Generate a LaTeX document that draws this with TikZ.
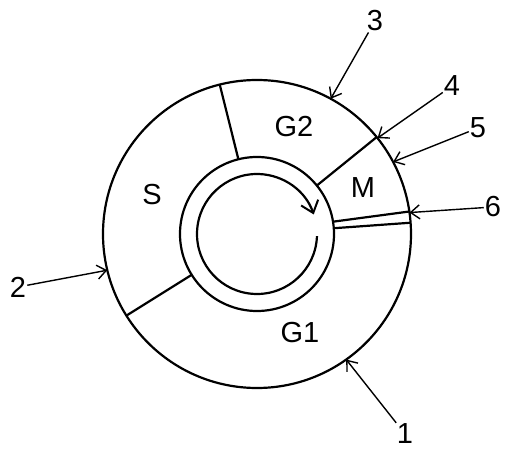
\documentclass[tikz,border=0pt]{standalone}
\usepackage{fontspec}
\setmainfont{Liberation Sans}
\usetikzlibrary{arrows.meta}

\begin{document}
\begin{tikzpicture}[x=1pt,y=1pt,
    ring/.style={line width=2.2pt},
    pointer/.style={line width=1.4pt,-{Straight Barb[length=9pt,width=14pt,line width=1.4pt]}},
    tag/.style={inner sep=1pt,font=\fontsize{29}{34}\selectfont}]
  \useasboundingbox (0,0) rectangle (511,450);
  \coordinate (c) at (257,216);
  % rings
  \draw[ring] (c) circle[radius=154pt];
  \draw[ring] (c) circle[radius=77pt];
  \draw[ring,-{Straight Barb[length=11pt,width=18pt,line width=2pt]}]
    ([shift={(-2:60pt)}]c) arc[start angle=-2,end angle=-341,radius=60pt];
  % dividers
  \draw[ring] ([shift={(104:77pt)}]c) -- ([shift={(104:154pt)}]c);
  \draw[ring] ([shift={(39:77pt)}]c) -- ([shift={(39:154pt)}]c);
  \draw[ring] ([shift={(9.2:77pt)}]c) -- ([shift={(8.4:154pt)}]c);
  \draw[ring] ([shift={(4.3:77pt)}]c) -- ([shift={(4.2:154pt)}]c);
  \draw[ring] ([shift={(212:77pt)}]c) -- ([shift={(212:154pt)}]c);
  % regions
  \node[tag] (g2) at (294,323) {G2};
  \node[tag] (s) at (152,255) {S};
  \node[tag] (m) at (363,262) {M};
  \node[tag] (g1) at (300,117) {G1};
  % pointers
  \coordinate (p1) at ([shift={(-54.6:154pt)}]c);
  \coordinate (p2) at ([shift={(193.6:154pt)}]c);
  \coordinate (p3) at ([shift={(61.4:154pt)}]c);
  \coordinate (p4) at ([shift={(38.5:154pt)}]c);
  \coordinate (p5) at ([shift={(27.9:154pt)}]c);
  \coordinate (p6) at ([shift={(8:154pt)}]c);
  \node[tag] (n1) at (405,16) {1};
  \node[tag] (n2) at (18,163) {2};
  \node[tag] (n3) at (375,429) {3};
  \node[tag] (n4) at (452,364) {4};
  \node[tag] (n5) at (478,322) {5};
  \node[tag] (n6) at (493,243) {6};
  \draw[pointer] (n1) -- (p1);
  \draw[pointer] (n2) -- (p2);
  \draw[pointer] (n3) -- (p3);
  \draw[pointer] (n4) -- (p4);
  \draw[pointer] (n5) -- (p5);
  \draw[pointer] (n6) -- (p6);
\end{tikzpicture}
\end{document}
